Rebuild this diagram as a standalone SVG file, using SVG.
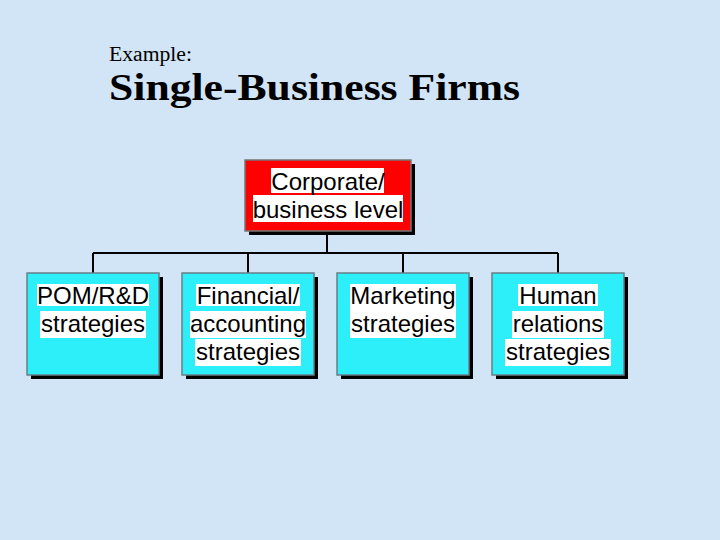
<svg xmlns="http://www.w3.org/2000/svg" width="720" height="540" viewBox="0 0 720 540">
<style>
.title{font-family:"Liberation Serif","Times New Roman",serif;fill:#000}
.lbl{font-family:"Liberation Sans",Arial,sans-serif;font-size:24px;fill:#000;text-anchor:middle}
.shadow{fill:#000}
.red{fill:#FF0000;stroke:#777;stroke-width:1.5}
.cyan{fill:#2CEFFA;stroke:#6A7F86;stroke-width:1.5}
.hl{fill:#fff}
.conn{stroke:#000;stroke-width:2;fill:none}
</style>
<rect width="720" height="540" fill="#D2E5F6"/>
<text class="title" x="109" y="61" font-size="20" textLength="83" lengthAdjust="spacingAndGlyphs">Example:</text>
<text class="title" x="109" y="100" font-size="37" font-weight="bold" textLength="411" lengthAdjust="spacingAndGlyphs">Single-Business Firms</text>
<g id="connectors">
<path class="conn" d="M327 231V253M93 253H558M93 253V273M248 253V273M403 253V273M558 253V273"/>
</g>
<g id="corporate">
<rect class="shadow" x="249" y="164" width="166" height="71"/>
<rect class="red" x="245" y="160" width="166" height="71"/>
<rect class="hl" x="271" y="168" width="113" height="25"/>
<rect class="hl" x="253" y="195" width="150" height="27"/>
<text class="lbl" x="328" y="190">Corporate/</text>
<text class="lbl" x="328" y="218">business level</text>
</g>
<g id="pom">
<rect class="shadow" x="31" y="277" width="132" height="102"/>
<rect class="cyan" x="27" y="273" width="132" height="102"/>
<rect class="hl" x="37" y="284" width="112" height="22"/>
<rect class="hl" x="40" y="311" width="106" height="27"/>
<text class="lbl" x="93" y="304">POM/R&amp;D</text>
<text class="lbl" x="93" y="332">strategies</text>
</g>
<g id="financial">
<rect class="shadow" x="186" y="277" width="132" height="102"/>
<rect class="cyan" x="182" y="273" width="132" height="102"/>
<rect class="hl" x="196" y="284" width="104" height="22"/>
<rect class="hl" x="190" y="311" width="116" height="27"/>
<rect class="hl" x="195" y="339" width="106" height="27"/>
<text class="lbl" x="248" y="304">Financial/</text>
<text class="lbl" x="248" y="332">accounting</text>
<text class="lbl" x="248" y="360">strategies</text>
</g>
<g id="marketing">
<rect class="shadow" x="341" y="277" width="132" height="102"/>
<rect class="cyan" x="337" y="273" width="132" height="102"/>
<rect class="hl" x="350" y="284" width="106" height="27"/>
<rect class="hl" x="350" y="311" width="106" height="27"/>
<text class="lbl" x="403" y="304">Marketing</text>
<text class="lbl" x="403" y="332">strategies</text>
</g>
<g id="human">
<rect class="shadow" x="496" y="277" width="132" height="102"/>
<rect class="cyan" x="492" y="273" width="132" height="102"/>
<rect class="hl" x="518" y="284" width="80" height="22"/>
<rect class="hl" x="512" y="311" width="92" height="27"/>
<rect class="hl" x="505" y="339" width="106" height="27"/>
<text class="lbl" x="558" y="304">Human</text>
<text class="lbl" x="558" y="332">relations</text>
<text class="lbl" x="558" y="360">strategies</text>
</g>
</svg>
